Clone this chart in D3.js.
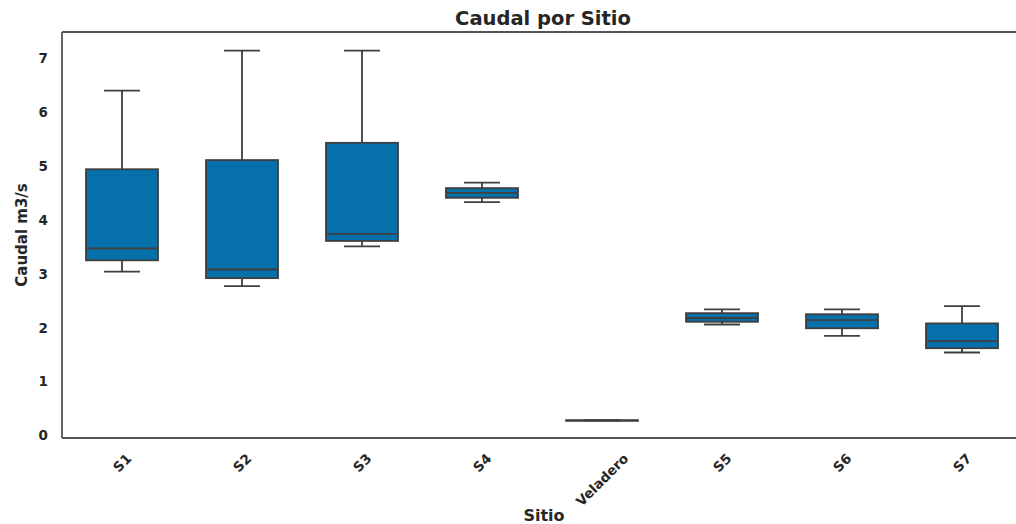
<!DOCTYPE html>
<html>
<head>
<meta charset="utf-8">
<script src="https://cdn.jsdelivr.net/npm/d3@7"></script>
<style>
  body { margin: 0; background: #fff; }
  text { font-family: "DejaVu Sans", sans-serif; fill: #262626; }
</style>
</head>
<body>
<div id="chart"></div>
<script>
// donnees (caudal m3/s)
const sitios = ["S1", "S2", "S3", "S4", "Veladero", "S5", "S6", "S7"];
const bigoteInf = [3.04, 2.77, 3.51, 4.33, 0.275, 2.06, 1.85, 1.54];
const q1 = [3.25, 2.92, 3.61, 4.41, 0.278, 2.11, 1.99, 1.62];
const mediana = [3.47, 3.08, 3.74, 4.50, 0.28, 2.18, 2.14, 1.75];
const q3 = [4.94, 5.11, 5.43, 4.59, 0.282, 2.27, 2.25, 2.08];
const bigoteSup = [6.40, 7.14, 7.14, 4.69, 0.285, 2.34, 2.34, 2.40];
const yTicks = [0, 1, 2, 3, 4, 5, 6, 7];

const width = 1016, height = 524;
const margin = { top: 32, right: -6, bottom: 86, left: 62 };
const innerW = width - margin.left - margin.right;
const innerH = height - margin.top - margin.bottom;

const svg = d3.select("#chart")
  .append("svg")
  .attr("width", width)
  .attr("height", height);

const g = svg.append("g")
  .attr("transform", "translate(" + margin.left + "," + margin.top + ")");

const x = d3.scaleBand()
  .domain(sitios)
  .range([0, innerW]);

const y = d3.scaleLinear()
  .domain([-0.046, 7.486])
  .range([innerH, 0]);

const datos = sitios.map((s, i) => ({
  sitio: s, lo: bigoteInf[i], q1: q1[i], med: mediana[i], q3: q3[i], hi: bigoteSup[i]
}));

const boxW = x.bandwidth() * 0.6;
const capW = boxW / 2;
const lineCol = "#3f3f3f";

const cajas = g.selectAll(".caja")
  .data(datos)
  .join("g")
  .attr("class", "caja")
  .attr("transform", d => "translate(" + (x(d.sitio) + x.bandwidth() / 2) + ",0)");

// bigotes
cajas.append("line")
  .attr("x1", 0).attr("x2", 0)
  .attr("y1", d => y(d.hi)).attr("y2", d => y(d.q3))
  .attr("stroke", lineCol).attr("stroke-width", 1.8);
cajas.append("line")
  .attr("x1", 0).attr("x2", 0)
  .attr("y1", d => y(d.q1)).attr("y2", d => y(d.lo))
  .attr("stroke", lineCol).attr("stroke-width", 1.8);

// caja
cajas.append("rect")
  .attr("x", -boxW / 2)
  .attr("width", boxW)
  .attr("y", d => y(d.q3))
  .attr("height", d => Math.max(0.5, y(d.q1) - y(d.q3)))
  .attr("fill", "#0570a9")
  .attr("stroke", lineCol)
  .attr("stroke-width", 1.8);

// mediana
cajas.append("line")
  .attr("x1", -boxW / 2).attr("x2", boxW / 2)
  .attr("y1", d => y(d.med)).attr("y2", d => y(d.med))
  .attr("stroke", lineCol).attr("stroke-width", 1.8);

// topes
["lo", "hi"].forEach(k => {
  cajas.append("line")
    .attr("x1", -capW / 2).attr("x2", capW / 2)
    .attr("y1", d => y(d[k])).attr("y2", d => y(d[k]))
    .attr("stroke", lineCol).attr("stroke-width", 1.8);
});

// marco (bordes)
g.append("line").attr("x1", 0).attr("x2", 0).attr("y1", 0).attr("y2", innerH)
  .attr("stroke", "#555").attr("stroke-width", 1.8);
g.append("line").attr("x1", 0).attr("x2", innerW).attr("y1", innerH).attr("y2", innerH)
  .attr("stroke", "#555").attr("stroke-width", 1.8);
g.append("line").attr("x1", 0).attr("x2", innerW).attr("y1", 0).attr("y2", 0)
  .attr("stroke", "#555").attr("stroke-width", 1.8);

// eje y
const yAxis = g.append("g")
  .call(d3.axisLeft(y).tickValues(yTicks).tickSize(0).tickPadding(14).tickFormat(d3.format("d")));
yAxis.select(".domain").remove();
yAxis.selectAll("text")
  .style("font-size", "13.5px")
  .style("font-weight", "bold")
  .attr("fill", "#262626");

// eje x, etiquetas giradas 45 grados
const fsX = 13.5;
const xLabels = g.append("g")
  .selectAll("text")
  .data(sitios)
  .join("text")
  .text(d => d)
  .style("font-size", fsX + "px")
  .style("font-weight", "bold")
  .attr("text-anchor", "middle")
  .attr("dominant-baseline", "central");
xLabels.attr("transform", function (d) {
  const w = this.getComputedTextLength();
  const cy = innerH + 14 + (w + fsX * 0.8) / (2 * Math.SQRT2);
  return "translate(" + (x(d) + x.bandwidth() / 2) + "," + cy + ") rotate(-45)";
});

// titulos
svg.append("text")
  .attr("x", margin.left + 481)
  .attr("y", 25)
  .attr("text-anchor", "middle")
  .style("font-size", "19.5px")
  .style("font-weight", "bold")
  .text("Caudal por Sitio");

svg.append("text")
  .attr("x", margin.left + 482)
  .attr("y", 521)
  .attr("text-anchor", "middle")
  .style("font-size", "16px")
  .style("font-weight", "bold")
  .text("Sitio");

svg.append("text")
  .attr("transform", "translate(27," + (margin.top + innerH / 2) + ") rotate(-90)")
  .attr("text-anchor", "middle")
  .style("font-size", "15px")
  .style("font-weight", "bold")
  .text("Caudal m3/s");
</script>
</body>
</html>
